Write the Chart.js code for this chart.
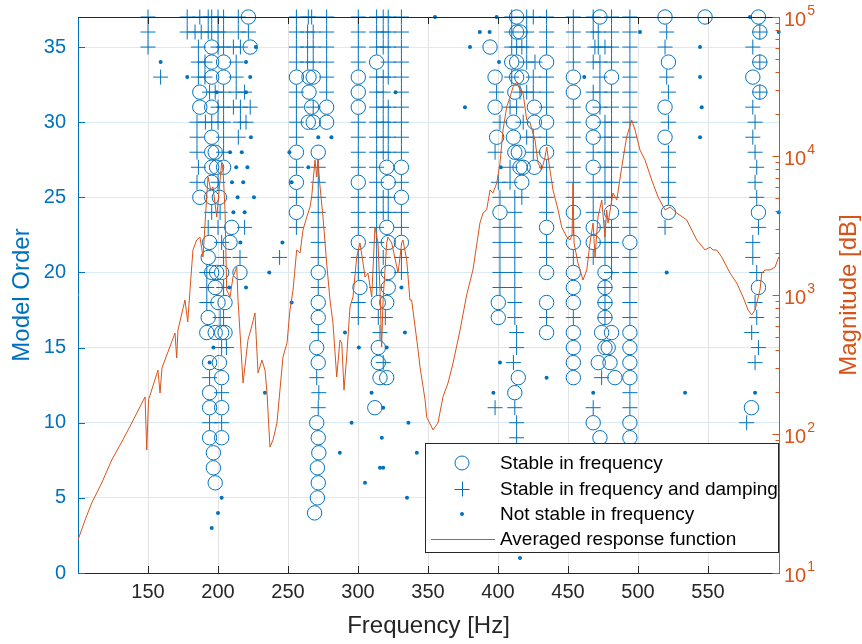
<!DOCTYPE html>
<html>
<head>
<meta charset="utf-8">
<script src="https://cdn.jsdelivr.net/npm/chart.js@4.4.1/dist/chart.umd.min.js"></script>
<style>
html,body{margin:0;padding:0;background:#fff;}
canvas{display:block;}
</style>
</head>
<body>
<canvas id="c" width="862" height="644" style="width:862px;height:644px"></canvas>
<script>
// ---------------- DATA ----------------
const xTickValues = [150, 200, 250, 300, 350, 400, 450, 500, 550];
const orderTickValues = [0, 5, 10, 15, 20, 25, 30, 35];
const magTickExponents = [1, 2, 3, 4, 5];

// Averaged response function (frequency in Hz, magnitude)
const frfFreq = [100,105,109.8,116.9,124.1,131.2,138.4,147.9,149.1,150.4,
157.1,158.6,160,169.3,170.5,171.4,176.4,178.4,180,182.1,
184.8,187.1,189.3,191.9,192.9,194.8,196.4,199.1,202.6,203.6,
205,206.2,208.6,210.7,213.4,214.3,217.9,221.4,224.3,226.4,
228.6,231.4,233.6,235,237.1,239.3,242.1,246.4,249.3,251.4,
253.6,256.2,258.6,260.7,263.4,265.7,266.9,269.3,270.5,271.4,
272.9,275,277.6,280,282.1,284.8,287.1,288.4,290,291.9,
294.3,296.4,299.1,301.4,303.6,305,307.1,309.8,312.1,314.3,
315.7,316.9,317.9,320.5,321.4,324.1,328.6,331.2,332.1,334.8,
337.1,338.3,342.9,344.3,347.9,349.1,353.6,357.1,360.7,364.3,
367.9,372.9,377.6,382.1,387.1,389.3,391.9,394.3,396.4,399.1,
401.4,403.6,406.2,408.6,410.7,413.4,415.7,417.9,420.5,422.9,
426.4,428.6,431.2,433.6,434.8,437.1,439.3,442.9,445.5,449.1,
451.4,452.9,453.6,454.3,457.1,460.7,463.4,465.7,467.9,469.3,
471.4,474.1,476.4,477.6,478.6,482.1,484.8,488.4,491.9,495.5,
497.9,501.4,505,509.8,514.3,519.3,522.9,527.6,534.8,541.9,
547.9,551.4,553.6,556.2,559.8,565.7,570.5,575,578.6,581.2,
583.6,584.8,587.1,588.4,590.7,594.3,597.9,600.5];
const frfMag = [17.3,24.0,31.9,44.4,65.0,87.5,120,185,76.7,176,
288,197,299,533,352,560,920,640,1086,2109,
2489,2612,1875,5070,7063,5689,5984,3639,8913,7925,
4093,1086,968,1346,1589,920,233,474,608,743,
275,340,288,197,80.5,90.6,120,358,452,780,
1086,2109,2004,2938,3639,4295,5070,9354,7063,9354,
5984,3639,1698,920,630,257,474,452,207,358,
820,968,1875,2366,1698,1346,1439,968,3083,2366,
1086,423,920,2366,2612,2366,1439,2366,2489,1786,
920,920,402,303,176,132,107,120,185,233,
324,560,1000,1514,3296,3890,4093,5689,5420,6397,
8913,15380,22540,26550,31330,34040,29850,28380,18160,17260,
13030,8913,7925,9840,11610,7925,5689,4093,3083,2612,
2489,2704,6397,2366,1698,1282,1514,2366,3296,1875,
3639,4819,2612,4093,3296,5420,4819,8337,13710,18160,
15380,11040,9354,6714,5070,4093,4295,3890,3467,2489,
2109,2213,2109,2109,1875,1439,1219,968,780,718,
780,875,1086,1439,1514,1514,1589,1875];

// Poles: [model order, [frequencies Hz]]
const stableFreqRows = [
[37,[221.7,413.3,472.8,519.3,547.9,586]],
[36,[413.3,415.7,587]],
[35,[195.5,223,394.3]],
[34,[195.5,204,313.3,409.8,413.3,434.7,521.7,587]],
[33,[195.5,204,256,265,268,300.2,397.9,413.3,417,453.8,481.1,582]],
[32,[187,265,300.2,412,453.8,587]],
[31,[187,195.5,266.9,277.6,300.2,397.9,426,468,519.3]],
[30,[264.5,268,277.6,411,426,434.7,468]],
[29,[195.5,399,411,468,519.3]],
[28,[195.5,198,256,271.6,412,414.5,434.7]],
[27,[195.5,199,204,320.5,331,415.7,418,426,468]],
[26,[195.5,256,300.2,321.6,417]],
[25,[187,195.5,201,331]],
[24,[256,401.4,453.8,481.1,521.7,586]],
[23,[209.8,320.5,434.7,468]],
[22,[194,208.6,300.2,321.6,331,453.8,468,494.2]],
[21,[193]],
[20,[195.5,199,202.6,215.7,271.6,321.6,434.7,453.8,476.4]],
[19,[198,301.4,321.6,453.8,476.4,586]],
[18,[200,205,271.6,314.5,320.5,400.2,434.7,453.8,476.4]],
[17,[193,271.6,400.2,476.4]],
[16,[192,198,202.6,205,434.7,453.8,474,481.1,494.2]],
[15,[270.5,314.5,453.8,476.4,478.7,494.2]],
[14,[194,201,271.6,314.5,453.8,471.6,480,494.2]],
[13,[202.6,315.7,320.5,414.5,453.8,483.5,494.2]],
[12,[194,412]],
[11,[194,202.6,312,581]],
[10,[270.5,468,494.2]],
[9,[194,202.6,271.6,472.8,494.2]],
[8,[196.7,272]],
[7,[196.7,271]],
[6,[198,271.6]],
[5,[271]],
[4,[269]]
];
const stableDampRows = [
[37,[150,178,187,193,195.5,200,204,214.5,256,264.5,266.9,277.6,300.2,313.3,318,321.6,331,409.8,420.5,425.2,434.7,453.8,468,481.1,494.2]],
[36,[150,178,183.6,188,193,195.5,200,204,214.5,221.7,256,264,268,277.6,300.2,313.3,318,321.6,331,409.8,420.5,434.7,453.8,468,471.6,481.1,494.2,520.5,587]],
[35,[150,186,200,204,211,216,256,264,268,277.6,300.2,313.3,318,321.6,331,409.8,413.3,417,420.5,434.7,453.8,469.2,471.6,476.4,481.1,494.2,519.3,582]],
[34,[186,190.7,213,256,264,268,277.6,300.2,321.6,331,420.5,426.4,453.8,468,472.8,481.1,494.2,587]],
[33,[159,186,190.7,213,277.6,313.3,318,321.6,331,409.8,425.2,434.7,472.8,494.2,520.5]],
[32,[194,198,204,213,219,256,277.6,313.3,318,331,399,415.7,420.5,425.2,434.7,468,472.8,481.1,494.2,521.7,587]],
[31,[200,204,211,216,223,256,268,313.3,318,321.6,331,408.6,413.3,434.7,453.8,472.8,481.1,494.2,582]],
[30,[185,191,195.5,200,204,216,220,256,300.2,313.3,318,321.6,331,401.4,418,453.8,476.4,481.1,494.2,521.7,583.6]],
[29,[185,204,214.5,256,300.2,313.3,318,321.6,331,420.5,425.2,434.7,453.8,476.4,481.1,494.2,582]],
[28,[185,204,300.2,313.3,318,321.6,331,397.9,425.2,453.8,468,476.4,481.1,494.2,521.7,583.6]],
[27,[186,256,271.6,300.2,313.3,408.6,434.7,453.8,476.4,481.1,494.2,521.7,584.8]],
[26,[185,200,271.6,313.3,331,400.2,408.6,434.7,453.8,468,476.4,481.1,494.2,521.7,583.6]],
[25,[256,271.6,300.2,313.3,318,321.6,401.4,412,417,434.7,453.8,468,476.4,481.1,494.2,521.7,584.8]],
[24,[195.5,201.5,271.6,300.2,313.3,318,321.6,331,412,434.7,468,494.2]],
[23,[193,200,219,256,271.6,300.2,313.3,331,401.4,412,453.8,476.4,481.1,494.2,519.3,586]],
[22,[202.6,271.6,313.3,401.4,412,434.7,476.4,481.1,582]],
[21,[204,215.7,244,271.6,300.2,313.3,318,331,401.4,412,434.7,453.8,468,476.4,481.1,494.2,582]],
[20,[192,300.2,313.3,331,401.4,412,481.1,494.2,584.8]],
[19,[192,204,271.6,313.3,401.4,412,476.4,494.2]],
[18,[192,300.2,412,476.4,494.2,583.6]],
[17,[201.5,204,300.2,314.5,319.5,412,434.7,453.8,476.4,494.2,584.8]],
[16,[271.6,315.7,413.3,581.2]],
[15,[202.6,206,413.3,586]],
[14,[318,411,583.6]],
[13,[194,270.5,474]],
[12,[202.6,272,494.2]],
[11,[271.6,397.9,412,468,494.2]],
[10,[194,202.6,413.3,577.6]],
[9,[413.3]]
];
const unstableRows = [
[37,[355,399,580]],
[36,[387,394,501.4,600.5]],
[35,[227,380,544.3]],
[34,[159,220,400.7]],
[33,[178,223,461.6,544.3]],
[32,[199,220,326.8]],
[31,[376.4,545.5]],
[29,[223.5,271.6,281,544.3]],
[28,[208.6,217,251]],
[27,[213,221,264.5,402]],
[26,[210,218,252.6]],
[25,[214,225.7]],
[24,[211,219,600.5]],
[22,[216,246]],
[20,[236.6,520.5]],
[19,[208,220,331]],
[18,[252.6]],
[16,[290.7,333.5]],
[15,[196.7,300.6,320.5]],
[14,[194,401.4]],
[13,[434.7]],
[12,[233.5,309.7,396.7,468,533.6,583.6]],
[11,[318]],
[10,[295.4,336]],
[9,[317]],
[8,[287,342]],
[7,[315.7,318]],
[6,[305]],
[5,[202.6,335]],
[4,[200]],
[3,[195.5]],
[1,[415.7]]
];
const legendLabels = ['Stable in frequency','Stable in frequency and damping','Not stable in frequency','Averaged response function'];

// ---------------- STYLE ----------------
const BLUE = '#0072BD', ORANGE = '#D95319', DARK = '#262626';
const FONT = '"Liberation Sans", Arial, Helvetica, sans-serif';
Chart.defaults.font.family = FONT;

function rowsToPoints(rows){
  const out = [];
  rows.forEach(([o, fs]) => fs.forEach(f => out.push({x: f, y: o})));
  return out;
}

const decor = {
  id: 'decor',
  afterDatasetsDraw(chart){
    const {ctx, chartArea: a, scales} = chart;
    const xs = scales.x, ys = scales.y, y2 = scales.y2;
    ctx.save();
    ctx.lineWidth = 1;
    const seg = (x1, y1, x2, yy2, c) => { ctx.strokeStyle = c; ctx.beginPath(); ctx.moveTo(x1, y1); ctx.lineTo(x2, yy2); ctx.stroke(); };
    const T = Math.round(a.top) + 0.5;
    const Rx = Math.round(a.right) + 0.5;
    // top border
    seg(a.left, T, a.right, T, DARK);
    // x ticks (inside, bottom and top)
    xTickValues.forEach(v => {
      const px = Math.round(xs.getPixelForValue(v)) + 0.5;
      seg(px, a.bottom, px, a.bottom - 7, DARK);
      seg(px, a.top, px, a.top + 7, DARK);
    });
    // left ticks
    orderTickValues.forEach(v => {
      const py = Math.round(ys.getPixelForValue(v)) + 0.5;
      seg(a.left, py, a.left + 7, py, BLUE);
    });
    // right axis line and log ticks
    seg(Rx, a.top, Rx, a.bottom, ORANGE);
    for (let d = 1; d <= 4; d++) {
      for (let m = 1; m <= 9; m++) {
        const py = Math.round(y2.getPixelForValue(m * Math.pow(10, d))) + 0.5;
        seg(Rx, py, Rx - (m === 1 ? 7 : 4), py, ORANGE);
      }
    }
    seg(Rx, T, Rx - 7, T, ORANGE);
    // right tick labels 10^n
    ctx.fillStyle = ORANGE;
    ctx.textBaseline = 'middle';
    ctx.textAlign = 'left';
    magTickExponents.forEach(e => {
      const py = y2.getPixelForValue(Math.pow(10, e));
      ctx.font = '20px ' + FONT;
      ctx.fillText('10', a.right + 5, py + 3);
      const w = ctx.measureText('10').width;
      ctx.font = '14px ' + FONT;
      ctx.fillText(String(e), a.right + 5 + w + 1, py - 6);
    });
    // right axis title
    ctx.save();
    ctx.translate(849, (a.top + a.bottom) / 2);
    ctx.rotate(-Math.PI / 2);
    ctx.textAlign = 'center';
    ctx.textBaseline = 'middle';
    ctx.font = '24px ' + FONT;
    ctx.fillStyle = ORANGE;
    ctx.fillText('Magnitude [dB]', 0, 0);
    ctx.restore();

    // legend box
    const bx = 425.5, by = 443.5, bw = 353, bh = 109;
    ctx.fillStyle = '#ffffff';
    ctx.fillRect(bx, by, bw, bh);
    ctx.strokeStyle = DARK;
    ctx.strokeRect(bx, by, bw, bh);
    const rowsY = [463, 489, 514, 539];
    const mx = 462;
    ctx.strokeStyle = BLUE; ctx.fillStyle = BLUE;
    ctx.beginPath(); ctx.arc(mx, rowsY[0], 7, 0, Math.PI * 2); ctx.stroke();
    seg(mx - 7.5, rowsY[1] + 0.5, mx + 7.5, rowsY[1] + 0.5, BLUE);
    seg(mx + 0.5, rowsY[1] - 7.5, mx + 0.5, rowsY[1] + 7.5, BLUE);
    ctx.fillStyle = BLUE;
    ctx.beginPath(); ctx.arc(mx, rowsY[2], 2, 0, Math.PI * 2); ctx.fill();
    seg(431, rowsY[3] + 0.5, 495, rowsY[3] + 0.5, ORANGE);
    ctx.fillStyle = '#000000';
    ctx.font = '19px ' + FONT;
    ctx.textAlign = 'left';
    ctx.textBaseline = 'middle';
    legendLabels.forEach((t, i) => ctx.fillText(t, 500, rowsY[i] + 1));
    ctx.restore();
  }
};

new Chart(document.getElementById('c').getContext('2d'), {
  type: 'scatter',
  data: {
    datasets: [
      { label: legendLabels[3], data: frfFreq.map((f, i) => ({x: f, y: frfMag[i]})), yAxisID: 'y2',
        showLine: true, borderColor: ORANGE, borderWidth: 1, pointRadius: 0, tension: 0, order: 0 },
      { label: legendLabels[0], data: rowsToPoints(stableFreqRows), yAxisID: 'y', pointStyle: 'circle',
        pointRadius: 7.2, pointBorderWidth: 1, borderWidth: 1, borderColor: BLUE, pointBorderColor: BLUE,
        backgroundColor: 'rgba(0,0,0,0)', pointBackgroundColor: 'rgba(0,0,0,0)', order: 1, clip: false },
      { label: legendLabels[1], data: rowsToPoints(stableDampRows), yAxisID: 'y', pointStyle: 'cross',
        pointRadius: 7.5, pointBorderWidth: 1, borderWidth: 1, borderColor: BLUE, pointBorderColor: BLUE,
        backgroundColor: BLUE, order: 1, clip: false },
      { label: legendLabels[2], data: rowsToPoints(unstableRows), yAxisID: 'y', pointStyle: 'circle',
        pointRadius: 2, pointBorderWidth: 0, borderWidth: 0, borderColor: BLUE, backgroundColor: BLUE,
        pointBackgroundColor: BLUE, order: 1, clip: false }
    ]
  },
  options: {
    responsive: false,
    animation: false,
    devicePixelRatio: 1,
    events: [],
    layout: { padding: { top: 17, left: 0, right: 0, bottom: 0 } },
    plugins: { legend: { display: false }, tooltip: { enabled: false } },
    scales: {
      x: {
        type: 'linear', position: 'bottom', min: 100, max: 600.7,
        afterBuildTicks: s => { s.ticks = xTickValues.map(v => ({value: v})); },
        afterFit: s => { s.height = 71; s.paddingLeft = 0; s.paddingRight = 0; },
        grid: { color: '#e3e3e3', drawTicks: false },
        border: { color: DARK, width: 1 },
        ticks: { color: DARK, font: { size: 20 }, padding: 7, maxRotation: 0, autoSkip: false },
        title: { display: true, text: 'Frequency [Hz]', color: DARK, font: { size: 24 }, padding: { top: 0, bottom: 3 } }
      },
      y: {
        type: 'linear', position: 'left', min: 0, max: 37,
        afterBuildTicks: s => { s.ticks = orderTickValues.map(v => ({value: v})); },
        afterFit: s => { s.width = 78; s.paddingTop = 0; s.paddingBottom = 0; },
        grid: { color: '#d9e9f5', drawTicks: false },
        border: { color: BLUE, width: 1 },
        ticks: { color: BLUE, font: { size: 20 }, padding: 12, autoSkip: false },
        title: { display: true, text: 'Model Order', color: BLUE, font: { size: 24 }, padding: { top: 8, bottom: 0 } }
      },
      y2: {
        type: 'logarithmic', position: 'right', min: 10, max: 100000,
        afterFit: s => { s.width = 83; s.paddingTop = 0; s.paddingBottom = 0; },
        grid: { display: false, drawOnChartArea: false },
        border: { display: false },
        ticks: { display: false }
      }
    }
  },
  plugins: [decor]
});
</script>
</body>
</html>
